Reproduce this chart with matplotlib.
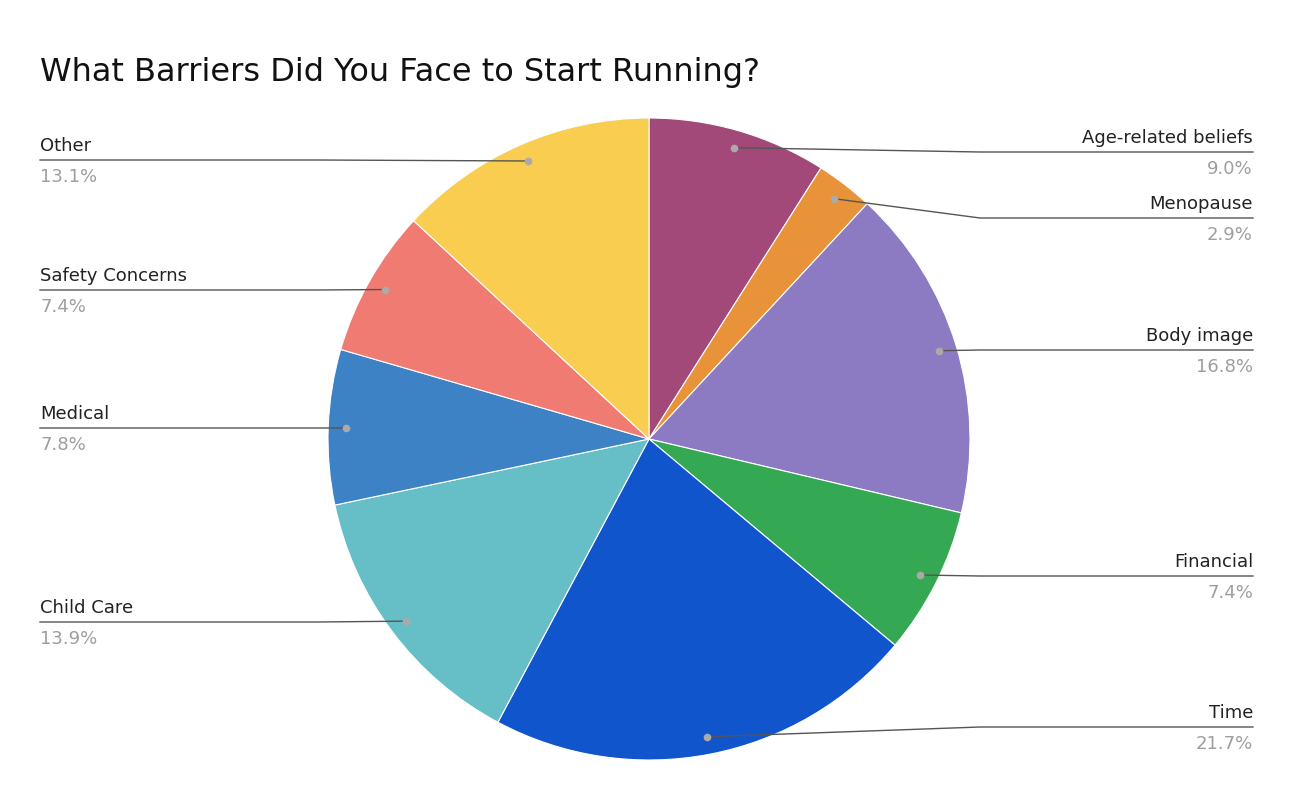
import matplotlib
matplotlib.use("Agg")
import matplotlib.pyplot as plt
import numpy as np

labels = ["Age-related beliefs", "Menopause", "Body image", "Financial", "Time",
          "Child Care", "Medical", "Safety Concerns", "Other"]
values = [9.0, 2.9, 16.8, 7.4, 21.7, 13.9, 7.8, 7.4, 13.1]
colors = ["#a2497a", "#e8923a", "#8c7bc2", "#34a853", "#1155cc",
          "#66bfc6", "#3d82c5", "#f07b72", "#f9cd4f"]
H = 801
label_y = [152, 218, 350, 576, 727, 622, 428, 290, 160]

fig = plt.figure(figsize=(12.96, 8.01), dpi=100)
ax = fig.add_axes([0, 0, 1, 1])
ax.set_xlim(0, 1296); ax.set_ylim(0, H); ax.set_aspect("equal"); ax.axis("off")
cx, cy, R = 649, H - 439, 321
wedges, _ = ax.pie(values, colors=colors, startangle=90, counterclock=False,
                   center=(cx, cy), radius=R, frame=True,
                   wedgeprops=dict(edgecolor="white", linewidth=0.8))
ax.set_xlim(0, 1296); ax.set_ylim(0, H); ax.axis("off")

for w, lab, v, ly in zip(wedges, labels, values, label_y):
    ang = np.deg2rad((w.theta1 + w.theta2) / 2)
    dx, dy = cx + 0.945 * R * np.cos(ang), cy + 0.945 * R * np.sin(ang)
    yl = H - ly
    right = np.cos(ang) > 0
    xend = 1253 if right else 40
    xk = cx + (R + 10) * (1 if right else -1)
    if right and dx > xk - 40:
        xk = dx + 5
    if (not right) and dx < xk + 40:
        xk = dx - 5
    ax.plot([dx, xk, xend], [dy, yl, yl], color="#555555", lw=1, zorder=3)
    ax.plot(dx, dy, "o", color="#aaaaaa", ms=4.5, zorder=4)
    ha = "right" if right else "left"
    ax.text(xend, yl + 5, lab, ha=ha, va="bottom", fontsize=13, color="#222222")
    ax.text(xend, yl - 8, f"{v:.1f}%", ha=ha, va="top", fontsize=13, color="#9e9e9e")

fig.text(40 / 1296, 1 - 72 / H, "What Barriers Did You Face to Start Running?",
         fontsize=23, color="#111111", va="center")
fig.savefig("out.png", dpi=100, facecolor="white")
